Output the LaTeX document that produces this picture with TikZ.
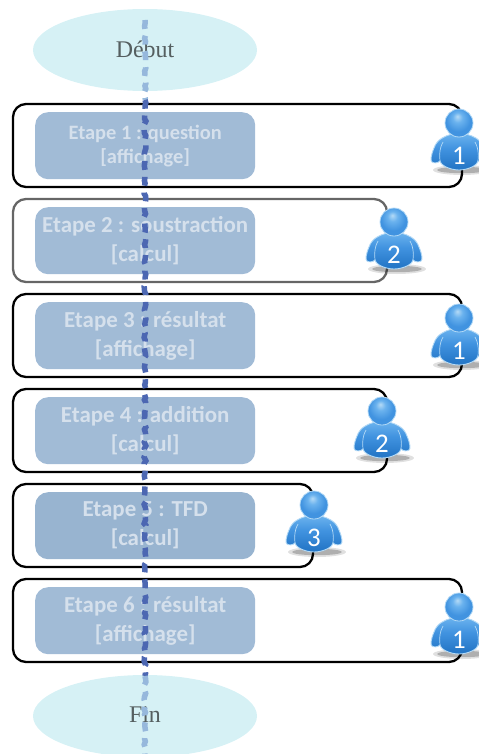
\documentclass[tikz,border=0pt]{standalone}
\usepackage{fontspec}
\setmainfont{Liberation Serif}
\newfontfamily\boxfont{Carlito}
\newfontfamily\numfont{Carlito}
\usetikzlibrary{decorations.pathmorphing,shadings,shapes.geometric}
\definecolor{ovalfill}{HTML}{D6F1F5}
\definecolor{ovaltext}{HTML}{555F60}
\definecolor{stepfill}{HTML}{A1BBD6}
\definecolor{stepfillb}{HTML}{98B4D0}
\definecolor{steptext}{HTML}{D5E0EC}
\definecolor{lineDark}{HTML}{4C67B2}
\definecolor{lineLight}{HTML}{96B8DC}
\definecolor{bodyA}{HTML}{6AB2EE}
\definecolor{bodyB}{HTML}{4193E0}
\definecolor{bodyC}{HTML}{2678C8}
\definecolor{rimC}{HTML}{B4DAF6}
\pgfdeclareverticalshading{bodyshade}{100bp}{color(0bp)=(bodyC); color(30bp)=(bodyC); color(55bp)=(bodyB); color(75bp)=(bodyA); color(100bp)=(bodyA)}
\pgfdeclareradialshading{headshade}{\pgfpoint{-3bp}{12bp}}{color(0bp)=(rimC); color(9bp)=(bodyA); color(22bp)=(bodyB); color(50bp)=(bodyB)}
\tikzset{
  x=1bp,y=-1bp,
  oval/.style={ellipse,fill=ovalfill,minimum width=224bp,minimum height=82bp,inner sep=0pt,text=ovaltext,font=\fontsize{24}{27}\selectfont},
  stepframe/.style={draw=black,line width=2.3bp,rounded corners=13bp,anchor=north west,minimum height=83bp,inner sep=0pt,outer sep=0pt},
  graybox/.style={stepframe,draw=black!60},
  stepbox/.style={fill=stepfill,rounded corners=13bp,anchor=north west,minimum width=220bp,minimum height=67bp,inner sep=0pt,align=center,text=steptext},
  boxsmall/.style={font=\boxfont\bfseries\fontsize{20.5}{24}\selectfont},
  boxlarge/.style={font=\boxfont\bfseries\fontsize{23}{29}\selectfont},
  flow/.style={line width=5.5bp,dash pattern=on 9bp off 7bp,decorate,decoration={random steps,segment length=3bp,amplitude=0.9bp}},
  person/.pic={
    \fill[black,opacity=.12] (3,47) ellipse [x radius=29,y radius=5];
    \fill[black,opacity=.22] (3,47) ellipse [x radius=25,y radius=3.2];
    \path[shade,shading=bodyshade,draw=rimC,line width=.9bp]
      (-7,11) .. controls (-14,13) and (-22,16) .. (-25,25)
      .. controls (-28,32) and (-29,38) .. (-27,39)
      .. controls (-25,40.5) and (-21,40) .. (-19,38)
      .. controls (-18,43) and (-8,47) .. (0,47)
      .. controls (8,47) and (18,43) .. (19,38)
      .. controls (21,40) and (25,40.5) .. (27,39)
      .. controls (29,38) and (28,32) .. (25,25)
      .. controls (22,16) and (14,13) .. (7,11) -- cycle;
    \draw[rimC,line width=.7bp] (-19,38) .. controls (-20,31) and (-19,24) .. (-16,19);
    \draw[rimC,line width=.7bp] (19,38) .. controls (20,31) and (19,24) .. (16,19);
    \path[shade,shading=headshade,draw=rimC,line width=.8bp] (0,0) circle [radius=14];
    \node[text=white,inner sep=0pt,font=\numfont\fontsize{27}{30}\selectfont] at (0,33) {\tikzpictext};
  },
}
\begin{document}
\begin{tikzpicture}
\useasboundingbox (0,0) rectangle (479,754);
\clip (0,0) rectangle (479,754);
\node[oval] (debut) at (145,50) {\raisebox{1bp}{Début}};
\node[oval] (fin) at (145,716) {\raisebox{2bp}{Fin}};
\node[stepframe,minimum width=449bp] (f1) at (13,104) {};
\node[graybox,minimum width=374bp] (f2) at (13,199) {};
\node[stepframe,minimum width=449bp] (f3) at (13,294) {};
\node[stepframe,minimum width=374bp] (f4) at (13,389) {};
\node[stepframe,minimum width=300bp] (f5) at (13,484) {};
\node[stepframe,minimum width=449bp] (f6) at (13,579) {};
\node[stepbox,boxsmall] (s1) at (35,112) {Etape 1 : question\\{}[affichage]};
\node[stepbox,boxlarge] (s2) at (35,207) {Etape 2 : soustraction\\{}[calcul]};
\node[stepbox,boxlarge] (s3) at (35,302) {Etape 3 : résultat\\{}[affichage]};
\node[stepbox,boxlarge] (s4) at (35,397) {Etape 4 : addition\\{}[calcul]};
\node[stepbox,boxlarge,fill=stepfillb] (s5) at (35,492) {Etape 5 : TFD\\{}[calcul]};
\node[stepbox,boxlarge] (s6) at (35,587) {Etape 6 : résultat\\{}[affichage]};
\coordinate (top) at (145,20);
\coordinate (a) at (145,100);
\coordinate (b) at (145,676);
\coordinate (bottom) at (145,754);
\pgfmathsetseed{7}
\draw[flow,lineLight] (top) -- (a);
\draw[flow,lineDark] (a) -- (b);
\draw[flow,lineLight] (b) -- (bottom);
\pic[pic text=1] at (459,123) {person};
\pic[pic text=2] at (394,222) {person};
\pic[pic text=1] at (459,318) {person};
\pic[pic text=2] at (382,411) {person};
\pic[pic text=3] at (314,505) {person};
\pic[pic text=1] at (459,607) {person};
\end{tikzpicture}
\end{document}
